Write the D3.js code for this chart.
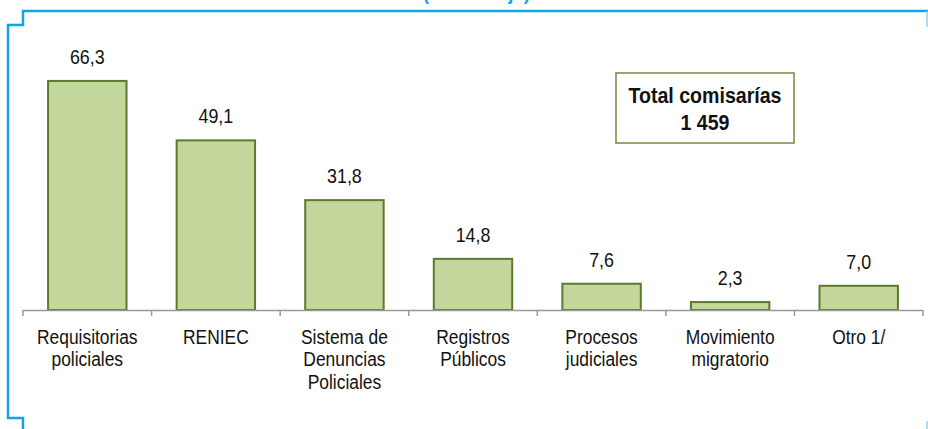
<!DOCTYPE html>
<html>
<head>
<meta charset="utf-8">
<script src="https://cdn.jsdelivr.net/npm/d3@7"></script>
<style>
  html, body { margin: 0; padding: 0; background: #fff; }
  svg { display: block; }
</style>
</head>
<body>
<div id="chart"></div>
<script>
// data
const categories = [
  'Requisitorias\npoliciales',
  'RENIEC',
  'Sistema de\nDenuncias\nPoliciales',
  'Registros\nPúblicos',
  'Procesos\njudiciales',
  'Movimiento\nmigratorio',
  'Otro 1/'
]
const values = [66.3, 49.1, 31.8, 14.8, 7.6, 2.3, 7.0]
const totalLines = ['Total comisarías', '1 459']
const titleText = '(Porcentaje)'

const width = 928,
  height = 429,
  baseY = 310,
  narrow = 0.87, // the original uses a condensed face
  font = '"Liberation Sans", Arial, sans-serif'

const svg = d3.select('#chart').append('svg')
  .attr('width', width)
  .attr('height', height)

// blue frame
const blue = '#12a3e3'
svg.append('path')
  .attr('d', 'M928,11 H23 V25 H8 V418 H23 V429')
  .attr('fill', 'none')
  .attr('stroke', blue)
  .attr('stroke-width', 2.5)
svg.append('path')
  .attr('d', 'M927,11 V27 M927,421 V429')
  .attr('fill', 'none')
  .attr('stroke', '#8fd0ef')
  .attr('stroke-width', 1.5)

// title, cut by the top edge as in the original
svg.append('text')
  .attr('x', 423).attr('y', 0)
  .attr('fill', blue)
  .style('font', 'bold 18.5px ' + font)
  .text(titleText)

const pad = 0.39
const x = d3.scaleBand()
  .domain(categories)
  .range([23, 923])
  .paddingInner(pad)
  .paddingOuter(pad / 2)
const y = d3.scaleLinear()
  .domain([0, 70])
  .range([baseY, baseY - 70 * 3.455])
const cx = c => x(c) + x.bandwidth() / 2

// bars
svg.selectAll('rect.bar')
  .data(values)
  .enter().append('rect')
  .attr('class', 'bar')
  .attr('x', (d, i) => x(categories[i]))
  .attr('y', d => y(d))
  .attr('width', x.bandwidth())
  .attr('height', d => y(0) - y(d))
  .attr('fill', '#c3d69b')
  .attr('stroke', '#5c7a2e')
  .attr('stroke-width', 2)

// value labels
svg.selectAll('text.val')
  .data(values)
  .enter().append('text')
  .attr('class', 'val')
  .attr('transform', (d, i) => `translate(${cx(categories[i])},${y(d) - 17}) scale(${narrow},1)`)
  .attr('text-anchor', 'middle')
  .attr('fill', '#111')
  .style('font', '20.5px ' + font)
  .text(d => d.toFixed(1).replace('.', ','))

// axis
const step = x.step()
const bounds = categories.map(c => x(c) - step * pad / 2)
bounds.push(x.range()[1])
const axisG = svg.append('g').attr('stroke', '#999').attr('stroke-width', 1.5)
axisG.append('line')
  .attr('x1', x.range()[0]).attr('x2', x.range()[1])
  .attr('y1', baseY + 0.5).attr('y2', baseY + 0.5)
axisG.selectAll('line.tick')
  .data(bounds)
  .enter().append('line')
  .attr('class', 'tick')
  .attr('x1', d => d).attr('x2', d => d)
  .attr('y1', baseY).attr('y2', baseY + 6)

// category labels
const lab = svg.selectAll('text.cat')
  .data(categories)
  .enter().append('text')
  .attr('class', 'cat')
  .attr('transform', c => `translate(${cx(c)},344) scale(${narrow},1)`)
  .attr('text-anchor', 'middle')
  .attr('fill', '#111')
  .style('font', '20px ' + font)
lab.each(function(c) {
  const t = d3.select(this)
  c.split('\n').forEach((line, k) => {
    t.append('tspan')
      .attr('x', 0)
      .attr('y', k * 22.5)
      .text(line)
  })
})

// total box
svg.append('rect')
  .attr('x', 616).attr('y', 73)
  .attr('width', 178).attr('height', 70)
  .attr('fill', '#fff')
  .attr('stroke', '#6f8c3c')
  .attr('stroke-width', 1.5)
svg.selectAll('text.tot')
  .data(totalLines)
  .enter().append('text')
  .attr('class', 'tot')
  .attr('transform', (d, i) => `translate(705,${102.5 + i * 27.5}) scale(${narrow},1)`)
  .attr('text-anchor', 'middle')
  .attr('fill', '#111')
  .style('font', 'bold 22.5px ' + font)
  .text(d => d)
</script>
</body>
</html>
